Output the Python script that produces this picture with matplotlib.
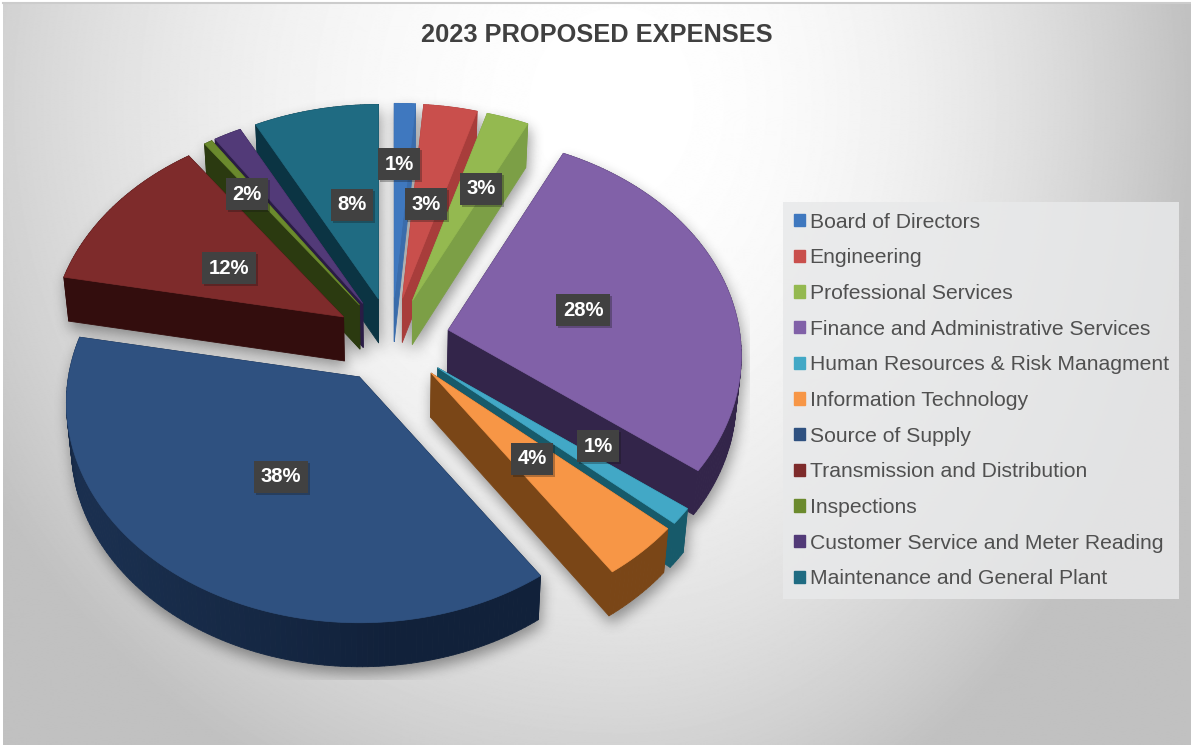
import numpy as np
import matplotlib
matplotlib.use("Agg")
import matplotlib.pyplot as plt
import matplotlib.patheffects as pe
from matplotlib.collections import PolyCollection
from matplotlib.colors import to_rgb
from matplotlib.patches import Patch

plt.rcParams['font.family'] = ['Liberation Sans', 'DejaVu Sans']

categories = ['Board of Directors', 'Engineering', 'Professional Services',
              'Finance and Administrative Services', 'Human Resources & Risk Managment',
              'Information Technology', 'Source of Supply', 'Transmission and Distribution',
              'Inspections', 'Customer Service and Meter Reading',
              'Maintenance and General Plant']
# share of total, percent
shares = [1.3, 3.3, 2.6, 28.1, 1.2, 4.0, 37.5, 12.1, 0.5, 1.7, 7.7]
top_colors = ['#3f78bf', '#c94f4c', '#94b950', '#8161a8', '#42a8c6', '#f79646',
              '#2f5180', '#7e2b2b', '#6b8a2d', '#523a78', '#1f6b82']
side_colors = ['#3a6cab', '#a83d3b', '#7c9f46', '#33254a', '#175a6a', '#7a4617',
               '#11213a', '#330d0d', '#2b3a10', '#2a1c45', '#0b3443']
# label box centres in px, no box for the Inspections slice
label_xy = [(399, 164), (426, 204), (481, 189), (583, 310), (598, 446), (532, 459),
            (281, 477), (229, 268), None, (247, 194), (352, 205)]

W, H = 1191, 747
cx, cy = 392, 340
explode = 0.2
depth = 44
rx, ry, persp = 291, 217, 0.117


def project(x, y):
    f = 1 + persp * y
    return rx * x / f, -ry * y / f


def slice_outline(a0, a1):
    # top face of one slice, angles clockwise from 12 o'clock
    mid = (a0 + a1) / 2
    ox, oy = project(explode * np.sin(mid), explode * np.cos(mid))
    t = np.linspace(a0, a1, max(int((a1 - a0) * 60), 6))
    xs, ys = project(np.sin(t), np.cos(t))
    xs = np.concatenate(([0], xs)) + ox + cx
    ys = np.concatenate(([0], ys)) + oy + cy
    return xs, ys


def draw_slice(ax, xs, ys, top, side):
    bx = cx + (xs - cx) * 0.985
    by = ys + depth
    quads = []
    faces = []
    for i in range(len(xs)):
        j = (i + 1) % len(xs)
        quads.append([(xs[i], ys[i]), (xs[j], ys[j]), (bx[j], by[j]), (bx[i], by[i])])
        # front wall gets lighter towards the left side of the pie
        mix = 0.0
        if i > 0 and j > 0:
            mix = 0.3 * np.clip((cx - xs[i]) / rx, 0, 1) * np.clip((ys[i] - cy) / 120, 0, 1)
        faces.append(tuple((1 - mix) * np.array(to_rgb(side)) + mix * np.array(to_rgb(top))))
    ax.add_collection(PolyCollection(quads, facecolors=faces, edgecolors=faces, linewidths=0.6, zorder=3))
    ax.fill(xs, ys, color=top, lw=0.5, zorder=3)


def background():
    yy, xx = np.mgrid[0:H, 0:W]
    dx = np.where(xx < 620, (620 - xx) / 720, (xx - 620) / 560)
    dy = (yy - 100) / 750
    d = np.clip(np.hypot(dx, dy), 0, 1.02)
    return 1.0 - 0.235 * d ** 2


def box_blur(img, size, passes=3):
    kernel = np.ones(size) / size
    for _ in range(passes):
        img = np.apply_along_axis(np.convolve, 0, img, kernel, mode='same')
        img = np.apply_along_axis(np.convolve, 1, img, kernel, mode='same')
    return img


def new_canvas():
    fig = plt.figure(figsize=(W / 100, H / 100), dpi=100)
    ax = fig.add_axes([0, 0, 1, 1])
    ax.set_xlim(0, W)
    ax.set_ylim(H, 0)
    ax.axis('off')
    return fig, ax


angles = np.concatenate(([0], np.cumsum(shares))) / sum(shares) * 2 * np.pi
slices = []
for i in range(len(shares)):
    xs, ys = slice_outline(angles[i], angles[i + 1])
    slices.append((np.cos((angles[i] + angles[i + 1]) / 2), i, xs, ys))
slices.sort(key=lambda s: -s[0])

# soft shadow: draw the pie in black off screen, blur it, cut it at the plot area
fig_m, ax_m = new_canvas()
for _, i, xs, ys in slices:
    draw_slice(ax_m, xs + 2, ys + 7, 'black', 'black')
fig_m.canvas.draw()
mask = 1 - np.asarray(fig_m.canvas.buffer_rgba())[:, :, 0] / 255
plt.close(fig_m)
shadow = box_blur(mask, 13)
shadow[680:, :] = 0
shadow[:, 750:] = 0
shadow_rgba = np.zeros((H, W, 4))
shadow_rgba[:, :, :3] = 0.1
shadow_rgba[:, :, 3] = shadow * 0.42

fig, ax = new_canvas()
ax.imshow(background(), cmap='gray', vmin=0, vmax=1, extent=(3, 1191, 745, 4), aspect='auto', zorder=0)
ax.plot([3, 1191], [3, 3], color='#cccccc', lw=1.5, zorder=1)
ax.imshow(shadow_rgba, extent=(0, W, H, 0), aspect='auto', zorder=2)
ax.set_xlim(0, W)
ax.set_ylim(H, 0)

for _, i, xs, ys in slices:
    draw_slice(ax, xs, ys, top_colors[i], side_colors[i])

for share, xy in zip(shares, label_xy):
    if xy is None:
        continue
    txt = ax.text(xy[0], xy[1], f'{round(share)}%', color='white', fontsize=14.6, fontweight='bold',
                  ha='center', va='center', zorder=5,
                  bbox=dict(boxstyle='square,pad=0.32', fc='#414141', ec='none'))
    txt.get_bbox_patch().set_path_effects([pe.withSimplePatchShadow(offset=(1.5, -1.5), alpha=0.3)])

ax.text(597, 34.5, '2023 PROPOSED EXPENSES', color='#404040', fontsize=18.3, fontweight='bold',
        ha='center', va='center', zorder=5)

handles = [Patch(color=c) for c in top_colors]
leg = ax.legend(handles, categories, loc='upper left', bbox_to_anchor=(783, 202), bbox_transform=ax.transData,
                fontsize=15.2, labelcolor='#505050', frameon=True, fancybox=False, facecolor='#e8e9ea',
                edgecolor='none', framealpha=0.85, handlelength=0.52, handleheight=0.52, handletextpad=0.24,
                labelspacing=0.79, borderpad=0.5, borderaxespad=0)
leg.set_zorder(4)

fig.savefig('out.png', dpi=100)
